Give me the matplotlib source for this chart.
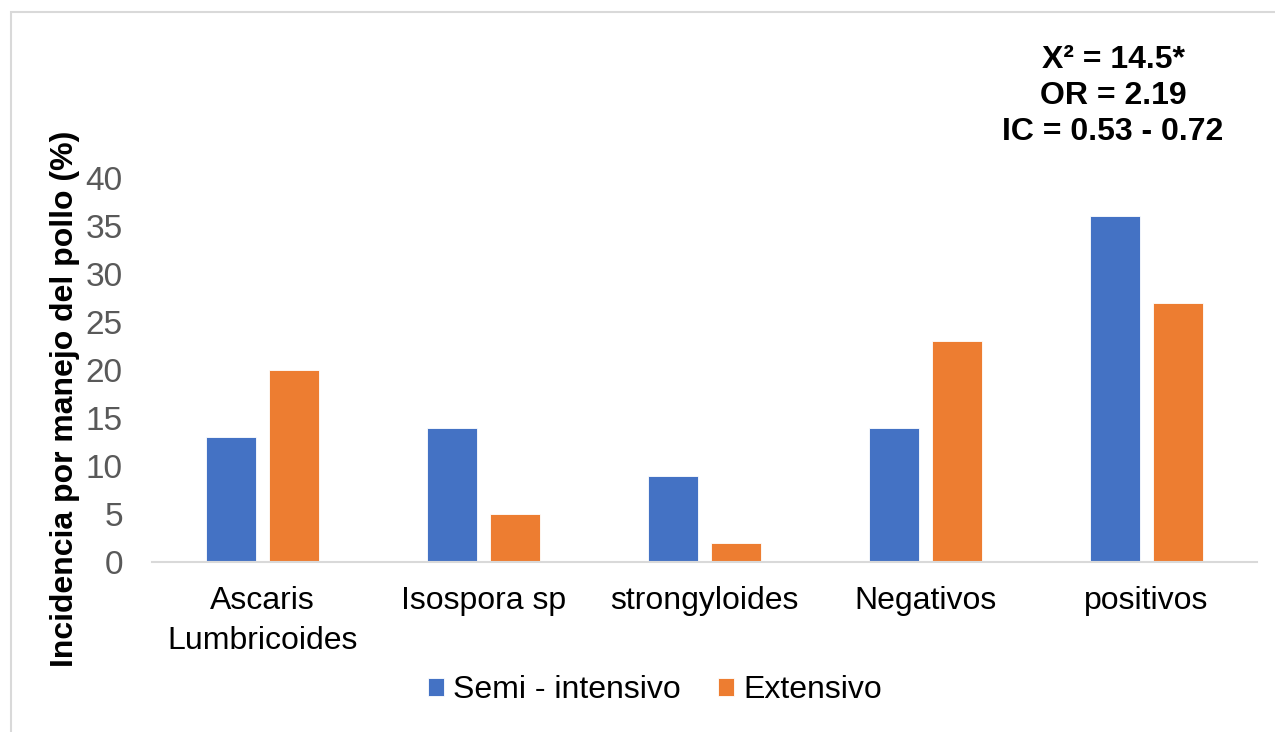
import numpy as np
import matplotlib.pyplot as plt
from matplotlib.patches import Rectangle

plt.rcParams['font.family'] = ['Liberation Sans', 'DejaVu Sans']

categories = ['Ascaris\nLumbricoides', 'Isospora sp', 'strongyloides', 'Negativos', 'positivos']
semi_intensivo = [13, 14, 9, 14, 36]
extensivo = [20, 5, 2, 23, 27]
series_names = ['Semi - intensivo', 'Extensivo']
colors = ['#4472C4', '#ED7D31']
stats_text = 'X\u00b2 = 14.5*\nOR = 2.19\nIC = 0.53 - 0.72'

fig = plt.figure(figsize=(12.75, 7.32), dpi=100)
fig.patches.append(Rectangle((11 / 1275, -0.05), 1.1, 1 - 12 / 732 + 0.05,
                             transform=fig.transFigure, fill=False,
                             edgecolor='#d9d9d9', linewidth=1.5))

ax = fig.add_axes([152 / 1275, 1 - 562 / 732, 1105 / 1275, 384 / 732])

x = np.arange(len(categories))
w = 0.226
off = 0.1425
ax.bar(x - off, semi_intensivo, w, color=colors[0], label=series_names[0],
       edgecolor='white', linewidth=0.6)
ax.bar(x + off, extensivo, w, color=colors[1], label=series_names[1],
       edgecolor='white', linewidth=0.6)

ax.set_xlim(-0.5, len(categories) - 0.5)
ax.set_ylim(0, 40)
ax.set_yticks(range(0, 41, 5))
ax.set_xticks(x)
ax.set_xticklabels(categories, fontsize=23, color='black', linespacing=1.45)
ax.tick_params(axis='y', length=0, pad=21, labelsize=24, labelcolor='#595959')
ax.tick_params(axis='x', length=0, pad=17)
for s in ['top', 'right', 'left']:
    ax.spines[s].set_visible(False)
ax.spines['bottom'].set_color('#d9d9d9')
ax.spines['bottom'].set_linewidth(1.5)

fig.text(65 / 1275, 1 - 399 / 732, 'Incidencia por manejo del pollo (%)',
         rotation=90, ha='center', va='center', fontsize=23, fontweight='bold')

fig.text(1113 / 1275, 1 - 96 / 732, stats_text, ha='center', va='center',
         fontsize=23, fontweight='bold', linespacing=1.25)

fig.legend(loc='center', bbox_to_anchor=(655 / 1275, 1 - 690 / 732), ncol=2,
           frameon=False, fontsize=23, handlelength=0.5, handleheight=0.5,
           handletextpad=0.3, columnspacing=1.15)

fig.savefig('out.png', dpi=100)
